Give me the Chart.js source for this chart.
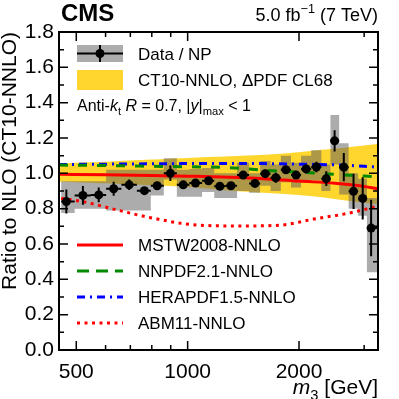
<!DOCTYPE html>
<html lang="en">
<head>
<meta charset="UTF-8">
<title>m3 ratio to CT10-NNLO</title>
<script src="https://cdn.jsdelivr.net/npm/chart.js"></script>
<style>
  body { margin: 0; background: #fff; }
</style>
</head>
<body>
<canvas id="myChart" width="399" height="399"></canvas>
<script>
// bins in m3 (GeV)
const binEdges = [455, 495, 547, 602, 662, 729, 795, 862, 935, 1011, 1094, 1180, 1265, 1360,
                  1466, 1570, 1675, 1786, 1903, 2026, 2158, 2298, 2432, 2568, 2724, 2889, 3052, 3270];
const binCenters = [470, 521, 575, 631, 695, 764, 827, 898, 973, 1050, 1139, 1222, 1309, 1413,
                    1520, 1621, 1731, 1843, 1964, 2090, 2229, 2370, 2496, 2643, 2808, 2973, 3133];
// Data / NP ratio and its errors
const ratio   = [0.84, 0.875, 0.878, 0.913, 0.935, 0.902, 0.93, 1.0, 0.935, 0.945, 0.958, 0.927, 0.93, 0.99,
                 0.943, 0.998, 0.975, 1.02, 0.99, 1.025, 1.036, 0.97, 1.184, 1.035, 0.898, 0.858, 0.69];
const statErr = [0.068, 0.053, 0.042, 0.04, 0.03, 0.015, 0.015, 0.044, 0.015, 0.015, 0.018, 0.015, 0.02, 0.022,
                 0.02, 0.022, 0.028, 0.022, 0.02, 0.025, 0.03, 0.042, 0.06, 0.08, 0.1, 0.12, 0.16];
const sysLo = [0.775, 0.80, 0.80, 0.79, 0.79, 0.79, 0.875, 0.965, 0.868, 0.868, 0.895, 0.86, 0.86, 0.90,
               0.89, 0.93, 0.90, 0.95, 0.92, 0.95, 0.96, 0.90, 1.05, 0.88, 0.80, 0.76, 0.44];
const sysHi = [0.955, 0.955, 0.955, 1.02, 1.02, 1.02, 1.02, 1.085, 1.02, 1.025, 1.03, 1.0, 1.0, 1.06,
               1.0, 1.07, 1.05, 1.10, 1.06, 1.10, 1.13, 1.05, 1.33, 1.17, 1.0, 0.97, 0.86];

// theory curves
const curveX = [449, 600, 800, 1000, 1300, 1600, 2000, 2500, 3000, 3270];
const ct10Hi = [1.057, 1.066, 1.078, 1.087, 1.096, 1.105, 1.12, 1.14, 1.158, 1.166];
const ct10Lo = [0.953, 0.944, 0.932, 0.922, 0.902, 0.89, 0.877, 0.855, 0.833, 0.825];
const mstw   = [0.995, 0.992, 0.988, 0.984, 0.978, 0.97, 0.956, 0.944, 0.926, 0.912];
const nnpdf  = [1.047, 1.044, 1.04, 1.037, 1.032, 1.018, 1.007, 0.994, 0.985, 0.98];
const hera   = [1.05, 1.052, 1.054, 1.055, 1.055, 1.055, 1.052, 1.048, 1.04, 1.035];
const abmX   = [455, 520, 646, 794, 1062, 1393, 1786, 2192, 2718, 3072, 3270];
const abm    = [0.858, 0.84, 0.792, 0.749, 0.707, 0.702, 0.707, 0.741, 0.774, 0.80, 0.815];

// axis ticks
const xTicksMajor = [500, 1000, 2000];
const xTicksMinor = [600, 700, 800, 900, 3000];
const yTicksMajor = [0, 0.2, 0.4, 0.6, 0.8, 1.0, 1.2, 1.4, 1.6, 1.8];
const yTicksMinor = [0.1, 0.3, 0.5, 0.7, 0.9, 1.1, 1.3, 1.5, 1.7];

const FONT = '"Liberation Sans", Arial, Helvetica, sans-serif';
const YELLOW = 'rgb(255,214,45)';
const GRAY = 'rgba(95,95,95,0.52)';

Chart.defaults.color = '#000';
Chart.defaults.font.family = FONT;

// step outlines of the systematic boxes
function steps(vals) {
    const pts = [];
    vals.forEach((v, i) => {
        pts.push({x: binEdges[i], y: v}, {x: binEdges[i + 1], y: v});
    });
    return pts;
}
// error bars as broken line segments
const errPts = [];
binCenters.forEach((c, i) => {
    errPts.push({x: c, y: ratio[i] - statErr[i]}, {x: c, y: ratio[i] + statErr[i]}, {x: c, y: null});
    errPts.push({x: binEdges[i], y: ratio[i]}, {x: binEdges[i + 1], y: ratio[i]}, {x: binEdges[i + 1], y: null});
});
const curve = (xs, ys) => xs.map((x, i) => ({x: x, y: ys[i]}));

// rich text helper (italic / sub / sup pieces)
function richWidth(ctx, parts, size) {
    let w = 0;
    for (const p of parts) {
        const s = (p.sub || p.sup) ? size * 0.7 : size;
        ctx.font = (p.it ? 'italic ' : '') + (p.b ? 'bold ' : '') + s + 'px ' + FONT;
        w += ctx.measureText(p.t).width;
    }
    return w;
}
function rich(ctx, x, y, parts, size) {
    ctx.textAlign = 'left';
    ctx.textBaseline = 'alphabetic';
    for (const p of parts) {
        const s = (p.sub || p.sup) ? size * 0.7 : size;
        ctx.font = (p.it ? 'italic ' : '') + (p.b ? 'bold ' : '') + s + 'px ' + FONT;
        const dy = p.sub ? size * 0.28 : (p.sup ? -size * 0.42 : 0);
        ctx.fillText(p.t, x, y + dy);
        x += ctx.measureText(p.t).width;
    }
}

const decor = {
    id: 'decor',
    afterDraw(chart) {
        const ctx = chart.ctx;
        const a = chart.chartArea;
        const xs = chart.scales.x, ys = chart.scales.y;
        ctx.save();
        ctx.fillStyle = '#000';
        ctx.strokeStyle = '#000';

        // ticks, pointing inward, on all four sides
        ctx.lineWidth = 1.5;
        ctx.beginPath();
        const xt = (v, len) => {
            const p = xs.getPixelForValue(v);
            ctx.moveTo(p, a.bottom); ctx.lineTo(p, a.bottom - len);
            ctx.moveTo(p, a.top); ctx.lineTo(p, a.top + len);
        };
        const yt = (v, len) => {
            const p = ys.getPixelForValue(v);
            ctx.moveTo(a.left, p); ctx.lineTo(a.left + len, p);
            ctx.moveTo(a.right, p); ctx.lineTo(a.right - len, p);
        };
        xTicksMajor.forEach(v => xt(v, 9));
        xTicksMinor.forEach(v => xt(v, 5));
        yTicksMajor.forEach(v => yt(v, 9));
        yTicksMinor.forEach(v => yt(v, 5));
        ctx.stroke();

        // frame
        ctx.lineWidth = 2;
        ctx.strokeRect(a.left, a.top, a.right - a.left, a.bottom - a.top);

        // header
        rich(ctx, 61, 21, [{t: 'CMS', b: true}], 24);
        const lumi = [{t: '5.0 fb'}, {t: '\u22121', sup: true}, {t: ' (7 TeV)'}];
        rich(ctx, 378 - richWidth(ctx, lumi, 18), 21, lumi, 18);

        // x title
        const xt2 = [{t: 'm', it: true}, {t: '3', sub: true}, {t: ' [GeV]'}];
        rich(ctx, 378 - richWidth(ctx, xt2, 21), 394, xt2, 21);

        // upper legend
        ctx.fillStyle = GRAY;
        ctx.fillRect(77, 45, 46, 17);
        ctx.fillStyle = '#000';
        ctx.lineWidth = 2;
        ctx.beginPath();
        ctx.moveTo(77, 53.5); ctx.lineTo(123, 53.5);
        ctx.moveTo(100, 45); ctx.lineTo(100, 62);
        ctx.stroke();
        ctx.beginPath();
        ctx.arc(100, 53.5, 4.5, 0, Math.PI * 2);
        ctx.fill();
        rich(ctx, 138, 60, [{t: 'Data / NP'}], 17);

        ctx.fillStyle = YELLOW;
        ctx.fillRect(77, 70, 46, 20);
        ctx.fillStyle = '#000';
        rich(ctx, 138, 86, [{t: 'CT10-NNLO, \u0394PDF CL68'}], 17);

        rich(ctx, 77, 111, [{t: 'Anti-'}, {t: 'k', it: true}, {t: 't', sub: true}, {t: ' '},
            {t: 'R', it: true}, {t: ' = 0.7, |'}, {t: 'y', it: true}, {t: '|'},
            {t: 'max', sub: true}, {t: ' < 1'}], 16);

        // lower legend
        const rows = [
            {txt: 'MSTW2008-NNLO', col: 'rgb(255,0,0)', dash: []},
            {txt: 'NNPDF2.1-NNLO', col: '#008a00', dash: [12, 7]},
            {txt: 'HERAPDF1.5-NNLO', col: '#0000ff', dash: [8, 5, 2, 5]},
            {txt: 'ABM11-NNLO', col: 'rgb(255,0,0)', dash: [3, 4.5]}
        ];
        rows.forEach((r, i) => {
            const yy = 245 + i * 26;
            ctx.save();
            ctx.strokeStyle = r.col;
            ctx.lineWidth = 3;
            ctx.setLineDash(r.dash);
            ctx.beginPath();
            ctx.moveTo(77, yy); ctx.lineTo(123, yy);
            ctx.stroke();
            ctx.restore();
            ctx.fillStyle = '#000';
            rich(ctx, 138, yy + 6, [{t: r.txt}], 17);
        });
        ctx.restore();
    }
};

const ctx = document.querySelector('#myChart');
const ratioChart = new Chart(ctx, {
    type: 'line',
    data: {
        datasets: [{
            label: 'CT10 lo',
            data: curve(curveX, ct10Lo),
            borderWidth: 0, borderColor: 'rgba(0,0,0,0)',
            pointRadius: 0, fill: false, tension: 0.3, order: 20
        }, {
            label: 'CT10-NNLO, \u0394PDF CL68',
            data: curve(curveX, ct10Hi),
            borderWidth: 0, borderColor: 'rgba(0,0,0,0)',
            backgroundColor: YELLOW,
            pointRadius: 0, fill: '-1', tension: 0.3, order: 19
        }, {
            label: 'sys lo',
            data: steps(sysLo),
            borderWidth: 0, borderColor: 'rgba(0,0,0,0)',
            pointRadius: 0, fill: false, order: 18
        }, {
            label: 'Data / NP sys',
            data: steps(sysHi),
            borderWidth: 0, borderColor: 'rgba(0,0,0,0)',
            backgroundColor: GRAY,
            pointRadius: 0, fill: '-1', order: 17
        }, {
            label: 'ABM11-NNLO',
            data: curve(abmX, abm),
            borderColor: 'rgb(255,0,0)', borderWidth: 3, borderDash: [3, 4.5],
            pointRadius: 0, fill: false, cubicInterpolationMode: 'monotone', order: 6
        }, {
            label: 'HERAPDF1.5-NNLO',
            data: curve(curveX, hera),
            borderColor: '#0000ff', borderWidth: 3, borderDash: [8, 5, 2, 5],
            pointRadius: 0, fill: false, cubicInterpolationMode: 'monotone', order: 5
        }, {
            label: 'NNPDF2.1-NNLO',
            data: curve(curveX, nnpdf),
            borderColor: '#008a00', borderWidth: 3, borderDash: [9, 10],
            pointRadius: 0, fill: false, cubicInterpolationMode: 'monotone', order: 4
        }, {
            label: 'MSTW2008-NNLO',
            data: curve(curveX, mstw),
            borderColor: 'rgb(255,0,0)', borderWidth: 3,
            pointRadius: 0, fill: false, cubicInterpolationMode: 'monotone', order: 3
        }, {
            label: 'stat',
            data: errPts,
            borderColor: '#000', borderWidth: 2,
            pointRadius: 0, fill: false, spanGaps: false, order: 2
        }, {
            label: 'Data / NP',
            data: binCenters.map((c, i) => ({x: c, y: ratio[i]})),
            showLine: false,
            pointRadius: 4.5, pointBackgroundColor: '#000', pointBorderColor: '#000',
            pointBorderWidth: 0, order: 1
        }]
    },
    options: {
        responsive: false,
        animation: false,
        events: [],
        layout: { padding: { top: 32, right: 21, left: 0, bottom: 0 } },
        plugins: { legend: { display: false }, tooltip: { enabled: false } },
        scales: {
            x: {
                type: 'logarithmic',
                min: 449, max: 3270,
                grid: { display: false, drawTicks: false },
                border: { display: false },
                afterBuildTicks: (s) => {
                    s.ticks = xTicksMajor.concat(xTicksMinor).sort((p, q) => p - q).map(v => ({value: v}));
                },
                afterFit: (s) => { s.height = 49; },
                ticks: {
                    autoSkip: false, maxRotation: 0, padding: 10,
                    font: { size: 21 },
                    callback: (v) => xTicksMajor.includes(v) ? String(v) : ''
                }
            },
            y: {
                min: 0, max: 1.8,
                grid: { display: false, drawTicks: false },
                border: { display: false },
                afterBuildTicks: (s) => { s.ticks = yTicksMajor.map(v => ({value: v})); },
                afterFit: (s) => { s.width = 59; },
                ticks: {
                    padding: 5,
                    font: { size: 21 },
                    callback: (v) => v.toFixed(1)
                },
                title: {
                    display: true,
                    text: 'Ratio to NLO (CT10-NNLO)',
                    align: 'end',
                    font: { size: 21, lineHeight: 1.0 },
                    padding: 0
                }
            }
        }
    },
    plugins: [decor]
});
</script>
</body>
</html>
